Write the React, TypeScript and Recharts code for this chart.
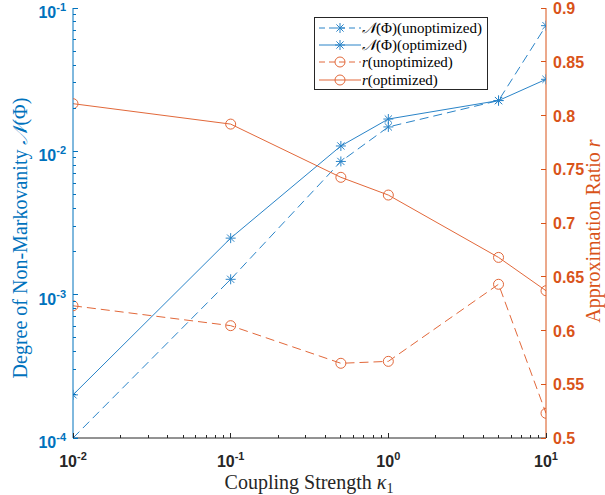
import React from 'react';
import { ComposedChart, Line, XAxis, YAxis } from 'recharts';

// ---- data ----
const couplingStrength = [0.01, 0.1, 0.5, 1, 5, 10];
const nonMarkovUnopt = [1.0e-4, 1.28e-3, 8.5e-3, 0.0148, 0.0226, 0.0753];
const nonMarkovOpt = [2.0e-4, 2.48e-3, 0.0109, 0.0168, 0.0226, 0.0318];
const ratioUnopt = [0.623, 0.6045, 0.5695, 0.5713, 0.643, 0.523];
const ratioOpt = [0.811, 0.792, 0.7425, 0.726, 0.668, 0.637];

const xDecades = [-2, -1, 0, 1];
const yLeftDecades = [-4, -3, -2, -1];
const yRightTicks = [0.5, 0.55, 0.6, 0.65, 0.7, 0.75, 0.8, 0.85, 0.9];
const minorMultipliers = [1, 2, 3, 4, 5, 6, 7, 8, 9];

const seriesNames = [
  'N(Φ)(unoptimized)',
  'N(Φ)(optimized)',
  'r(unoptimized)',
  'r(optimized)',
];

const buildLogTicks = (decades: number[]) => {
  const out: number[] = [];
  for (let i = 0; i < decades.length; i++) {
    const e = decades[i];
    if (i === decades.length - 1) {
      out.push(Number(Math.pow(10, e).toPrecision(3)));
    } else {
      for (const m of minorMultipliers) out.push(Number((m * Math.pow(10, e)).toPrecision(3)));
    }
  }
  return out;
};

const xTicks = buildLogTicks(xDecades);
const yLeftTicks = buildLogTicks(yLeftDecades);

const data = couplingStrength.map((k, i) => ({
  k,
  nu: nonMarkovUnopt[i],
  no: nonMarkovOpt[i],
  ru: ratioUnopt[i],
  ro: ratioOpt[i],
}));

// ---- styles ----
const BLUE_AXIS = '#0072BD';
const ORANGE_AXIS = '#D95319';
const BLUE_LINE = '#2a84c8';
const ORANGE_LINE = '#e2683a';
const DARK = '#262626';
const TICK_FONT = '"Liberation Sans", Arial, sans-serif';
const LABEL_FONT = '"Liberation Serif", "Times New Roman", serif';
const DASH = '9,5';

const isMajor = (v: number) => {
  const l = Math.log10(v);
  return Math.abs(l - Math.round(l)) < 1e-6;
};

const PowerLabel = ({ x, y, exp, anchor, fill }: any) => (
  <text x={x} y={y} textAnchor={anchor} fill={fill} fontFamily={TICK_FONT} fontWeight="bold" fontSize={16}>
    10
    <tspan dy={-7} fontSize={11}>{exp}</tspan>
  </text>
);

const snap = (v: number) => Math.round(v - 0.5) + 0.5;

const BottomTick = (props: any) => {
  const { x, y, payload } = props;
  const v = payload.value;
  const major = isMajor(v);
  const len = major ? 5 : 3;
  const sx = snap(x);
  return (
    <g>
      <line x1={sx} x2={sx} y1={y} y2={y - len} stroke={DARK} strokeWidth={1} />
      {major && <PowerLabel x={x} y={y + 29} exp={String(Math.round(Math.log10(v)))} anchor="middle" fill={DARK} />}
    </g>
  );
};

const TopTick = (props: any) => {
  const { x, y, payload } = props;
  const major = isMajor(payload.value);
  const len = major ? 5 : 3;
  const sx = snap(x);
  return <line x1={sx} x2={sx} y1={y} y2={y + len} stroke={DARK} strokeWidth={1} />;
};

const LeftTick = (props: any) => {
  const { x, y, payload } = props;
  const v = payload.value;
  const major = isMajor(v);
  const len = major ? 5 : 3;
  const sy = snap(y);
  return (
    <g>
      <line x1={x} x2={x + len} y1={sy} y2={sy} stroke={BLUE_AXIS} strokeWidth={1} />
      {major && <PowerLabel x={x - 7} y={y + 10} exp={String(Math.round(Math.log10(v)))} anchor="end" fill={BLUE_AXIS} />}
    </g>
  );
};

const RightTick = (props: any) => {
  const { x, y, payload } = props;
  const sy = snap(y);
  return (
    <g>
      <line x1={x} x2={x - 5} y1={sy} y2={sy} stroke={ORANGE_AXIS} strokeWidth={1} />
      <text x={x + 7} y={y + 6} textAnchor="start" fill={ORANGE_AXIS} fontFamily={TICK_FONT} fontWeight="bold" fontSize={16}>
        {String(payload.value)}
      </text>
    </g>
  );
};

const Asterisk = ({ cx, cy, color }: any) => {
  if (cx == null || cy == null) return null;
  const r = 5;
  const d = 3.6;
  return (
    <g stroke={color} strokeWidth={1} fill="none">
      <line x1={cx - r} y1={cy} x2={cx + r} y2={cy} />
      <line x1={cx} y1={cy - r} x2={cx} y2={cy + r} />
      <line x1={cx - d} y1={cy - d} x2={cx + d} y2={cy + d} />
      <line x1={cx - d} y1={cy + d} x2={cx + d} y2={cy - d} />
    </g>
  );
};

const Ring = ({ cx, cy, color }: any) => {
  if (cx == null || cy == null) return null;
  return <circle cx={cx} cy={cy} r={5} stroke={color} strokeWidth={1} fill="none" />;
};

const LeftLabel = () => (
  <text
    x={27}
    y={238}
    transform="rotate(-90, 27, 238)"
    textAnchor="middle"
    fill={BLUE_AXIS}
    fontFamily={LABEL_FONT}
    fontSize={20}
  >
    Degree of Non-Markovanity <tspan fontStyle="italic">𝒩</tspan>(Φ)
  </text>
);

const RightLabel = () => (
  <text
    x={600}
    y={231}
    transform="rotate(-90, 600, 231)"
    textAnchor="middle"
    fill={ORANGE_AXIS}
    fontFamily={LABEL_FONT}
    fontSize={20}
  >
    Approximation Ratio <tspan fontStyle="italic">r</tspan>
  </text>
);

const BottomLabel = () => (
  <text x={309} y={489} textAnchor="middle" fill={DARK} fontFamily={LABEL_FONT} fontSize={20}>
    Coupling Strength <tspan fontStyle="italic">κ</tspan>
    <tspan dy={4} fontSize={14}>1</tspan>
  </text>
);

const legendStyles = [
  { color: BLUE_LINE, dash: true, marker: 'ast', nameMain: '𝒩', rest: '(Φ)(unoptimized)' },
  { color: BLUE_LINE, dash: false, marker: 'ast', nameMain: '𝒩', rest: '(Φ)(optimized)' },
  { color: ORANGE_LINE, dash: true, marker: 'ring', nameMain: 'r', rest: '(unoptimized)' },
  { color: ORANGE_LINE, dash: false, marker: 'ring', nameMain: 'r', rest: '(optimized)' },
];

const LegendBox = () => (
  <div
    style={{
      position: 'absolute',
      left: 314,
      top: 17,
      width: 172,
      height: 70,
      border: `1px solid ${DARK}`,
      background: '#fff',
      boxSizing: 'content-box',
      paddingTop: 1,
    }}
  >
    {legendStyles.map((s, i) => (
      <div key={seriesNames[i]} style={{ display: 'flex', alignItems: 'center', height: 17.4 }}>
        <svg width={47} height={14} style={{ flex: 'none' }}>
          <line x1={4} x2={46} y1={7} y2={7} stroke={s.color} strokeWidth={1} strokeDasharray={s.dash ? '6,4' : undefined} />
          {s.marker === 'ast' ? <Asterisk cx={25} cy={7} color={s.color} /> : <Ring cx={25} cy={7} color={s.color} />}
        </svg>
        <span style={{ fontFamily: LABEL_FONT, fontSize: 15, color: '#000', whiteSpace: 'nowrap', lineHeight: '14px' }}>
          <i>{s.nameMain}</i>
          {s.rest}
        </span>
      </div>
    ))}
  </div>
);

export default function App() {
  return (
    <div style={{ position: 'absolute', left: 0, top: 0, width: 605, height: 495, background: '#fff' }}>
      <ComposedChart width={605} height={495} data={data} margin={{ top: 8, right: 9, bottom: 17, left: 13 }}>
        <XAxis
          xAxisId="b"
          dataKey="k"
          type="number"
          scale="log"
          domain={[0.01, 10]}
          ticks={xTicks}
          interval={0}
          allowDataOverflow
          tickSize={0}
          tickMargin={0}
          tickLine={false}
          tick={<BottomTick />}
          axisLine={{ stroke: DARK, strokeWidth: 1 }}
          height={40}
          label={<BottomLabel />}
        />
        <XAxis
          xAxisId="t"
          orientation="top"
          dataKey="k"
          type="number"
          scale="log"
          domain={[0.01, 10]}
          ticks={xTicks}
          interval={0}
          allowDataOverflow
          tickSize={0}
          tickMargin={0}
          tickLine={false}
          tick={<TopTick />}
          axisLine={{ stroke: DARK, strokeWidth: 1 }}
          height={0}
        />
        <YAxis
          yAxisId="l"
          orientation="left"
          type="number"
          scale="log"
          domain={[1e-4, 1e-1]}
          ticks={yLeftTicks}
          interval={0}
          allowDataOverflow
          tickSize={0}
          tickMargin={0}
          tickLine={false}
          tick={<LeftTick />}
          axisLine={{ stroke: BLUE_AXIS, strokeWidth: 1 }}
          width={60}
          label={<LeftLabel />}
        />
        <YAxis
          yAxisId="r"
          orientation="right"
          type="number"
          domain={[0.5, 0.9]}
          ticks={yRightTicks}
          interval={0}
          allowDataOverflow
          tickSize={0}
          tickMargin={0}
          tickLine={false}
          tick={<RightTick />}
          axisLine={{ stroke: ORANGE_AXIS, strokeWidth: 1 }}
          width={50}
          label={<RightLabel />}
        />
        <Line
          xAxisId="b"
          yAxisId="l"
          dataKey="nu"
          name={seriesNames[0]}
          type="linear"
          stroke={BLUE_LINE}
          strokeWidth={1}
          strokeDasharray={DASH}
          dot={(p: any) => <Asterisk key={`nu${p.index}`} cx={p.cx} cy={p.cy} color={BLUE_LINE} />}
          activeDot={false}
          isAnimationActive={false}
        />
        <Line
          xAxisId="b"
          yAxisId="l"
          dataKey="no"
          name={seriesNames[1]}
          type="linear"
          stroke={BLUE_LINE}
          strokeWidth={1}
          dot={(p: any) => <Asterisk key={`no${p.index}`} cx={p.cx} cy={p.cy} color={BLUE_LINE} />}
          activeDot={false}
          isAnimationActive={false}
        />
        <Line
          xAxisId="b"
          yAxisId="r"
          dataKey="ru"
          name={seriesNames[2]}
          type="linear"
          stroke={ORANGE_LINE}
          strokeWidth={1}
          strokeDasharray={DASH}
          dot={(p: any) => <Ring key={`ru${p.index}`} cx={p.cx} cy={p.cy} color={ORANGE_LINE} />}
          activeDot={false}
          isAnimationActive={false}
        />
        <Line
          xAxisId="b"
          yAxisId="r"
          dataKey="ro"
          name={seriesNames[3]}
          type="linear"
          stroke={ORANGE_LINE}
          strokeWidth={1}
          dot={(p: any) => <Ring key={`ro${p.index}`} cx={p.cx} cy={p.cy} color={ORANGE_LINE} />}
          activeDot={false}
          isAnimationActive={false}
        />
      </ComposedChart>
      <LegendBox />
    </div>
  );
}
